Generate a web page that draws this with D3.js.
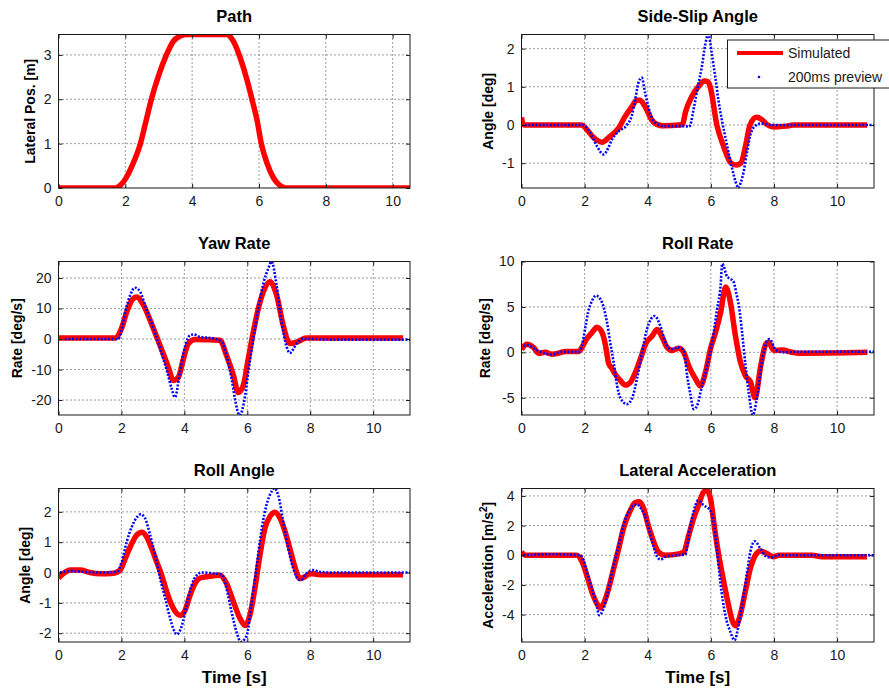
<!DOCTYPE html>
<html><head><meta charset="utf-8">
<script src="https://cdn.jsdelivr.net/npm/d3@7"></script>
<style>body{margin:0;background:#fff} svg{display:block}</style>
</head><body>
<svg id="chart" width="889" height="690"></svg>
<script>
// ---------------- DATA ----------------
const xTicks = [0, 2, 4, 6, 8, 10];
const seriesNames = ["Simulated", "200ms preview"];
const titles = ["Path", "Side-Slip Angle", "Yaw Rate", "Roll Rate", "Roll Angle", "Lateral Acceleration"];
const yLabels = ["Lateral Pos. [m]", "Angle [deg]", "Rate [deg/s]", "Rate [deg/s]", "Angle [deg]", "Acceleration [m/s²]"];
const xLabel = "Time [s]";

// Path
const pathT = [0, 1.7, 1.85, 2.0, 2.2, 2.45, 2.6, 2.78, 2.98, 3.23, 3.43, 3.65, 3.85, 5.03, 5.24, 5.44, 5.64, 5.79, 5.95, 6.07, 6.24, 6.44, 6.64, 6.8, 10.52];
const pathSim = [0, 0, 0.06, 0.2, 0.5, 1.0, 1.45, 2.0, 2.5, 3.0, 3.3, 3.43, 3.46, 3.46, 3.3, 2.93, 2.44, 2.0, 1.5, 1.0, 0.56, 0.22, 0.05, 0, 0];
const pathYTicks = [0, 1, 2, 3];

// Side-slip angle
const slipSimT = [0, 0.05, 0.1, 1.9, 2.1, 2.25, 2.4, 2.55, 2.8, 3.07, 3.28, 3.5, 3.65, 3.75, 3.92, 4.13, 4.34, 4.5, 5.0, 5.1, 5.2, 5.4, 5.6, 5.8, 5.9, 5.98, 6.19, 6.4, 6.64, 6.8, 6.95, 7.1, 7.24, 7.45, 7.6, 7.8, 8.0, 8.4, 8.6, 10.95];
const slipSim = [0.2, 0.02, 0, 0, -0.15, -0.3, -0.4, -0.45, -0.3, -0.09, 0.22, 0.48, 0.65, 0.65, 0.48, 0.13, 0.0, -0.02, 0, 0.02, 0.35, 0.75, 1.0, 1.15, 1.13, 1.0, 0, -0.55, -1.0, -1.05, -1.0, -0.55, 0, 0.2, 0.15, 0.0, -0.05, -0.03, 0, 0];
const slipPrevT = [0.1, 1.95, 2.1, 2.25, 2.4, 2.6, 2.75, 2.86, 3.07, 3.34, 3.5, 3.6, 3.7, 3.81, 3.92, 4.08, 4.29, 4.55, 5.2, 5.3, 5.35, 5.45, 5.61, 5.71, 5.82, 5.92, 6.03, 6.14, 6.24, 6.35, 6.5, 6.66, 6.82, 6.87, 6.95, 7.03, 7.14, 7.24, 7.4, 7.61, 7.93, 8.5, 11.2];
const slipPrev = [0, 0, -0.12, -0.32, -0.57, -0.77, -0.6, -0.39, -0.17, 0, 0.26, 0.65, 1.09, 1.24, 0.83, 0.3, 0.03, -0.03, -0.03, -0.05, 0, 0.4, 1.1, 1.5, 2.1, 2.38, 1.87, 1.26, 0.65, 0.13, -0.48, -1.09, -1.57, -1.65, -1.5, -1.26, -0.74, -0.3, -0.03, 0.04, 0, 0, 0];
const slipYTicks = [-1, 0, 1, 2];

// Yaw rate
const yawSimT = [0, 1.8, 2.0, 2.17, 2.33, 2.49, 2.7, 2.91, 3.12, 3.33, 3.49, 3.65, 3.81, 3.97, 4.13, 4.34, 5.13, 5.34, 5.56, 5.71, 5.87, 6.03, 6.19, 6.35, 6.51, 6.72, 6.93, 7.14, 7.35, 7.57, 7.88, 10.95];
const yawSim = [0.3, 0.3, 3.4, 8.9, 12.7, 13.8, 11.1, 6.2, 0.7, -4.8, -9.2, -13.6, -12.5, -6.5, -1.5, -0.2, -0.4, -5.4, -12, -17.5, -15.3, -6.5, 2.3, 10, 15.5, 18.8, 14.4, 4.5, -1.5, -1, 0.3, 0.3];
const yawPrevT = [0.2, 1.9, 2.0, 2.12, 2.28, 2.43, 2.59, 2.8, 3.02, 3.23, 3.44, 3.6, 3.7, 3.86, 4.02, 4.18, 4.29, 4.5, 4.92, 5.19, 5.34, 5.5, 5.61, 5.75, 5.93, 6.03, 6.19, 6.35, 6.51, 6.67, 6.77, 6.93, 7.09, 7.25, 7.35, 7.57, 7.78, 8.73, 11.2];
const yawPrev = [0, 0, 2.9, 8.9, 14.4, 16.8, 15.5, 9.5, 3.4, -3.2, -10.3, -16.4, -19.1, -10.9, -2.6, 1.2, 1.5, 0.7, 0.2, -1, -5.4, -13, -19.7, -25, -18.6, -10.9, 0, 10, 18.2, 23.2, 25.4, 17.6, 5.6, -2.6, -4.6, -1.5, 0.1, -0.2, -0.2];
const yawYTicks = [-20, -10, 0, 10, 20];

// Roll rate
const rrSimT = [0, 0.17, 0.38, 0.54, 0.75, 0.96, 1.17, 1.39, 1.81, 1.92, 2.03, 2.24, 2.39, 2.55, 2.66, 2.76, 2.87, 2.97, 3.13, 3.29, 3.45, 3.61, 3.77, 3.93, 4.14, 4.3, 4.46, 4.61, 4.77, 4.98, 5.14, 5.3, 5.51, 5.67, 5.83, 5.99, 6.15, 6.31, 6.47, 6.62, 6.78, 6.94, 7.1, 7.26, 7.4, 7.58, 7.74, 7.82, 8.0, 8.26, 8.58, 8.79, 10.96];
const rrSim = [0.3, 0.9, 0.55, -0.1, 0, -0.2, -0.1, 0.1, 0.1, 0.55, 1.3, 2.2, 2.75, 2.2, 0.8, -1.2, -1.8, -2.4, -3.1, -3.6, -3.3, -2.2, -0.7, 0.9, 1.8, 2.5, 1.65, 0.55, 0.2, 0.45, 0, -1.5, -2.9, -3.7, -2.2, 0.4, 2.2, 4.4, 7.2, 5.5, 1.8, -1.1, -2.6, -3.3, -5.0, -1.5, 0.9, 1.1, 0.2, 0.25, 0, -0.1, 0];
const rrPrevT = [0.06, 0.22, 0.43, 0.65, 0.96, 1.28, 1.81, 1.92, 2.03, 2.11, 2.24, 2.36, 2.55, 2.71, 2.81, 2.92, 3.03, 3.13, 3.34, 3.5, 3.66, 3.82, 3.98, 4.22, 4.4, 4.56, 4.72, 4.98, 5.14, 5.25, 5.35, 5.46, 5.56, 5.72, 5.88, 6.04, 6.2, 6.31, 6.36, 6.52, 6.62, 6.73, 6.8, 6.89, 6.99, 7.1, 7.2, 7.33, 7.47, 7.63, 7.79, 7.86, 8.05, 8.26, 8.79, 11.2];
const rrPrev = [0.7, 0.8, 0.35, 0, -0.25, 0.05, 0.05, 0.8, 2.9, 4.4, 5.7, 6.25, 5.5, 3.3, 1.1, -1.1, -3.7, -5.0, -5.7, -5.1, -2.9, 0, 2.6, 4.0, 2.9, 1.1, 0.35, 0.55, 0.2, -2.6, -4.6, -6.25, -5.9, -3.7, -1.5, 1.1, 4.8, 7.35, 9.75, 8.3, 8.1, 7.7, 6.6, 5.1, 2.2, -1.5, -4.4, -6.9, -4.8, -0.7, 1.3, 1.45, 0.3, 0, 0.07, 0.07];
const rrYTicks = [-5, 0, 5, 10];

// Roll angle
const raSimT = [0, 0.16, 0.37, 0.69, 1.0, 1.32, 1.75, 1.96, 2.12, 2.28, 2.49, 2.65, 2.8, 2.96, 3.12, 3.28, 3.44, 3.6, 3.86, 4.02, 4.18, 4.34, 4.5, 4.71, 5.13, 5.34, 5.56, 5.77, 5.93, 6.08, 6.24, 6.4, 6.56, 6.72, 6.88, 7.04, 7.2, 7.35, 7.51, 7.67, 7.83, 7.99, 8.31, 10.95];
const raSim = [-0.18, -0.03, 0.08, 0.08, 0, -0.04, -0.02, 0.08, 0.46, 0.85, 1.24, 1.33, 1.18, 0.8, 0.35, -0.09, -0.64, -1.08, -1.41, -1.25, -0.75, -0.36, -0.18, -0.14, -0.09, -0.36, -0.97, -1.52, -1.75, -1.41, -0.53, 0.57, 1.46, 1.85, 1.99, 1.79, 1.35, 0.8, 0.19, -0.2, -0.14, -0.03, -0.07, -0.07];
const raPrevT = [0.05, 0.37, 0.79, 1.32, 1.85, 2.01, 2.17, 2.33, 2.49, 2.61, 2.75, 2.91, 3.07, 3.23, 3.39, 3.55, 3.65, 3.76, 3.92, 4.07, 4.23, 4.39, 4.55, 4.92, 5.19, 5.34, 5.5, 5.66, 5.79, 5.98, 6.14, 6.3, 6.46, 6.61, 6.77, 6.86, 6.98, 7.14, 7.3, 7.46, 7.62, 7.7, 7.88, 8.1, 8.31, 8.73, 11.2];
const raPrev = [0, 0.05, 0.02, 0, 0.02, 0.35, 1.02, 1.51, 1.82, 1.92, 1.79, 1.24, 0.57, -0.2, -0.86, -1.52, -1.86, -2.04, -1.75, -1.08, -0.42, -0.09, 0, -0.03, -0.06, -0.53, -1.3, -1.97, -2.28, -2.08, -0.97, 0.24, 1.46, 2.23, 2.67, 2.78, 2.56, 1.68, 0.8, 0.13, -0.22, -0.25, -0.03, 0.08, 0.02, 0, 0];
const raYTicks = [-2, -1, 0, 1, 2];

// Lateral acceleration
const laSimT = [0, 0.12, 1.75, 1.92, 2.07, 2.23, 2.39, 2.49, 2.6, 2.76, 2.92, 3.08, 3.23, 3.45, 3.6, 3.73, 3.87, 4.03, 4.19, 4.34, 4.56, 4.98, 5.14, 5.3, 5.45, 5.61, 5.77, 5.88, 5.99, 6.12, 6.25, 6.41, 6.56, 6.69, 6.78, 6.93, 7.09, 7.25, 7.41, 7.57, 7.78, 7.99, 8.15, 9.21, 9.52, 10.95];
const laSim = [0.22, 0, 0, -0.45, -1.35, -2.47, -3.26, -3.55, -3.26, -2.25, -0.9, 0.45, 1.8, 3.03, 3.55, 3.6, 3.15, 1.91, 0.9, 0.22, 0, 0.09, 0.22, 1.35, 2.47, 3.37, 4.27, 4.38, 3.82, 1.8, 0, -1.8, -3.37, -4.49, -4.76, -4.04, -2.47, -0.9, 0, 0.29, 0.11, -0.11, 0, 0, -0.1, -0.1];
const laPrevT = [0.06, 0.96, 1.86, 1.97, 2.07, 2.23, 2.39, 2.46, 2.6, 2.76, 2.92, 3.08, 3.23, 3.39, 3.55, 3.66, 3.82, 3.98, 4.14, 4.3, 4.4, 4.56, 4.87, 5.19, 5.24, 5.3, 5.4, 5.51, 5.59, 5.77, 5.98, 6.09, 6.19, 6.3, 6.46, 6.62, 6.75, 6.88, 7.04, 7.15, 7.25, 7.39, 7.57, 7.73, 7.89, 8.15, 11.22];
const laPrev = [0, 0.07, 0, -0.34, -1.12, -2.25, -3.48, -4.04, -3.6, -2.25, -0.67, 0.67, 2.02, 2.92, 3.37, 3.42, 3.03, 2.25, 0.9, -0.11, -0.29, -0.11, 0, 0.04, 0.45, 1.35, 2.47, 3.37, 3.7, 3.37, 3.03, 2.25, 0.45, -1.8, -4.04, -5.17, -5.73, -4.72, -2.7, -1.12, 0.22, 0.94, 0.45, -0.04, -0.16, 0, 0];
const laYTicks = [-4, -2, 0, 2, 4];

// Axis limits (tight, as in the reference)
const xMaxPath = 10.52, xMax = 11.17;
const yDomains = [[0, 3.46], [-1.65, 2.37], [-24.9, 25.4], [-6.9, 10], [-2.29, 2.77], [-5.85, 4.5]];

// ---------------- LAYOUT / STYLE ----------------
const FONT = "'Liberation Sans', Arial, Helvetica, sans-serif";
const colX = [[58.5, 410], [521.5, 874]];
const rowY = [34.5, 261.5, 488.5];
const plotH = 153.5;
const RED = "#ff0000", BLUE = "#0000ff", INK = "#1a1a1a";

const panels = [
  { sim: [pathT, pathSim], prev: null, yTicks: pathYTicks, xmax: xMaxPath },
  { sim: [slipSimT, slipSim], prev: [slipPrevT, slipPrev], yTicks: slipYTicks, xmax: xMax },
  { sim: [yawSimT, yawSim], prev: [yawPrevT, yawPrev], yTicks: yawYTicks, xmax: xMax },
  { sim: [rrSimT, rrSim], prev: [rrPrevT, rrPrev], yTicks: rrYTicks, xmax: xMax },
  { sim: [raSimT, raSim], prev: [raPrevT, raPrev], yTicks: raYTicks, xmax: xMax },
  { sim: [laSimT, laSim], prev: [laPrevT, laPrev], yTicks: laYTicks, xmax: xMax }
];

const svg = d3.select("#chart");
const defs = svg.append("defs");
const fmt = d => String(d);

panels.forEach((p, i) => {
  const col = i % 2, row = Math.floor(i / 2);
  const x0 = colX[col][0], x1 = colX[col][1];
  const y0 = rowY[row], y1 = y0 + plotH;
  const x = d3.scaleLinear().domain([0, p.xmax]).range([x0, x1]);
  const y = d3.scaleLinear().domain(yDomains[i]).range([y1, y0]);
  const g = svg.append("g");

  // grid
  const grid = g.append("g").attr("stroke", INK).attr("stroke-width", 1)
    .attr("stroke-dasharray", "1,3").attr("opacity", 0.85);
  xTicks.filter(t => t > 0 && t < p.xmax).forEach(t => {
    grid.append("line").attr("x1", x(t)).attr("x2", x(t)).attr("y1", y0).attr("y2", y1);
  });
  p.yTicks.filter(t => y(t) > y0 + 0.5 && y(t) < y1 - 0.5).forEach(t => {
    grid.append("line").attr("x1", x0).attr("x2", x1).attr("y1", y(t)).attr("y2", y(t));
  });

  // clip
  const cid = "clip" + i;
  defs.append("clipPath").attr("id", cid).append("rect")
    .attr("x", x0).attr("y", y0).attr("width", x1 - x0).attr("height", y1 - y0);
  const plot = g.append("g").attr("clip-path", `url(#${cid})`);

  const line = d3.line().x(d => x(d[0])).y(d => y(d[1])).curve(d3.curveMonotoneX);
  const simPts = p.sim[0].map((t, k) => [t, p.sim[1][k]]);
  plot.append("path").attr("d", line(simPts)).attr("fill", "none")
    .attr("stroke", RED).attr("stroke-width", 5.5).attr("stroke-linejoin", "round");
  if (p.prev) {
    const prevPts = p.prev[0].map((t, k) => [t, p.prev[1][k]]);
    plot.append("path").attr("d", line(prevPts)).attr("fill", "none")
      .attr("stroke", BLUE).attr("stroke-width", 2.6).attr("stroke-dasharray", "2,1.6");
  }

  // axes
  const styleAxis = a => {
    a.select(".domain").remove();
    a.attr("font-family", FONT).attr("font-size", 14);
    a.selectAll("line").attr("stroke", INK);
    a.selectAll("text").attr("fill", INK);
  };
  g.append("g").attr("transform", `translate(0,${y1})`)
    .call(d3.axisBottom(x).tickValues(xTicks.filter(t => t <= p.xmax)).tickSize(-4).tickPadding(8).tickFormat(fmt))
    .call(styleAxis);
  g.append("g").attr("transform", `translate(0,${y0})`)
    .call(d3.axisTop(x).tickValues(xTicks.filter(t => t <= p.xmax)).tickSize(-4).tickFormat(""))
    .call(styleAxis);
  const ga = g.append("g").attr("transform", `translate(${x0},0)`)
    .call(d3.axisLeft(y).tickValues(p.yTicks).tickSize(-4).tickPadding(7).tickFormat(fmt))
    .call(styleAxis);
  g.append("g").attr("transform", `translate(${x1},0)`)
    .call(d3.axisRight(y).tickValues(p.yTicks).tickSize(-4).tickFormat(""))
    .call(styleAxis);

  // frame
  g.append("rect").attr("x", x0).attr("y", y0).attr("width", x1 - x0).attr("height", y1 - y0)
    .attr("fill", "none").attr("stroke", INK).attr("stroke-width", 1);

  // title
  g.append("text").attr("x", (x0 + x1) / 2).attr("y", y0 - 13).attr("text-anchor", "middle")
    .attr("font-family", FONT).attr("font-weight", "bold").attr("font-size", 16.5).attr("fill", "#000")
    .text(titles[i]);

  // y label
  const bb = ga.node().getBBox();
  const lx = x0 + bb.x - 14;
  const ly = (y0 + y1) / 2;
  const yl = g.append("text").attr("transform", `translate(${lx},${ly}) rotate(-90)`)
    .attr("text-anchor", "middle").attr("dy", "0.35em")
    .attr("font-family", FONT).attr("font-weight", "bold").attr("font-size", 14).attr("fill", "#000");
  const lab = yLabels[i];
  if (lab.includes("²")) {
    const parts = lab.split("²");
    yl.append("tspan").text(parts[0]);
    yl.append("tspan").attr("dy", -6).attr("font-size", 10).text("2");
    yl.append("tspan").attr("dy", 6).text(parts[1]);
  } else {
    yl.text(lab);
  }

  // x label on bottom row
  if (row === 2) {
    g.append("text").attr("x", (x0 + x1) / 2).attr("y", y1 + 41).attr("text-anchor", "middle")
      .attr("font-family", FONT).attr("font-weight", "bold").attr("font-size", 17).attr("fill", "#000")
      .text(xLabel);
  }
});

// legend (in Side-Slip Angle panel)
const lg = svg.append("g");
lg.append("rect").attr("x", 727.5).attr("y", 40).attr("width", 170).attr("height", 48)
  .attr("fill", "#fff").attr("stroke", INK).attr("stroke-width", 1);
lg.append("line").attr("x1", 737).attr("x2", 783).attr("y1", 53).attr("y2", 53)
  .attr("stroke", RED).attr("stroke-width", 4);
lg.append("circle").attr("cx", 759).attr("cy", 77).attr("r", 1.3).attr("fill", BLUE);
[seriesNames[0], seriesNames[1]].forEach((s, k) => {
  lg.append("text").attr("x", 788).attr("y", 53 + k * 24).attr("dy", "0.36em")
    .attr("font-family", FONT).attr("font-size", 14).attr("fill", INK).text(s);
});
</script>
</body></html>
